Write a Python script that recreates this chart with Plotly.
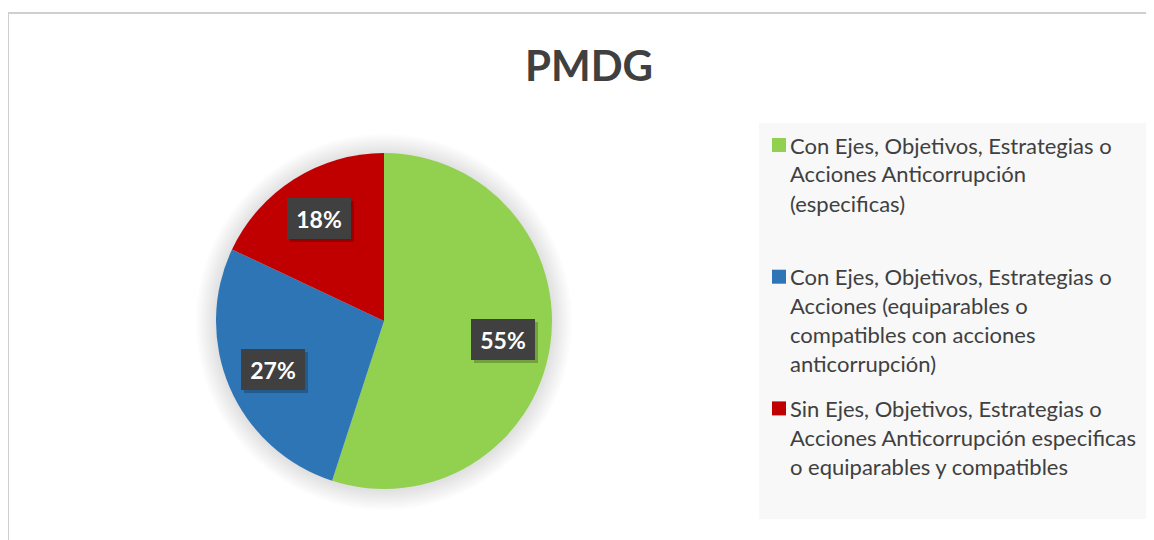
import math
import plotly.graph_objects as go

# ---- data ----
title_text = "PMDG"
labels = [
    "Con Ejes, Objetivos, Estrategias o<br>Acciones Anticorrupción<br>(especificas)",
    "Con Ejes, Objetivos, Estrategias o<br>Acciones (equiparables o<br>compatibles con acciones<br>anticorrupción)",
    "Sin Ejes, Objetivos, Estrategias o<br>Acciones Anticorrupción especificas<br>o equiparables y compatibles",
]
values = [55, 27, 18]
colors = ["#92D050", "#2E75B6", "#C00000"]

# ---- layout geometry (page pixels; page body has an 8px margin) ----
OFF = 8
W, H = 1154 - OFF, 540 - OFF
cx, cy, R = 384, 321, 168

def px(x):
    return (x - OFF) / W

def py(y):
    return 1 - (y - OFF) / H

fig = go.Figure()
fig.add_trace(go.Pie(
    labels=[l.replace("<br>", " ") for l in labels],
    values=values,
    marker=dict(colors=colors, line=dict(width=0)),
    sort=False,
    direction="clockwise",
    rotation=0,
    textinfo="none",
    hoverinfo="label+percent",
    showlegend=False,
    domain=dict(x=[px(cx - R), px(cx + R)], y=[py(cy + R), py(cy - R)]),
))

annotations = []
shapes = []

# chart border
shapes.append(dict(type="rect", xref="paper", yref="paper",
                   x0=px(8), x1=px(1154 + 20), y0=py(540 + 20), y1=py(13),
                   line=dict(color="#CFCFCF", width=2), fillcolor="rgba(0,0,0,0)", layer="below"))
# legend background
shapes.append(dict(type="rect", xref="paper", yref="paper",
                   x0=px(759), x1=px(1154 + 20), y0=py(519), y1=py(123),
                   line=dict(width=0), fillcolor="#F8F8F8", layer="below"))
# soft shadow around the pie
for k in range(1, 11):
    rr = R + 2 * k
    shapes.append(dict(type="circle", xref="paper", yref="paper",
                       x0=px(cx - rr), x1=px(cx + rr), y0=py(cy + 1 + rr), y1=py(cy + 1 - rr),
                       line=dict(width=0), fillcolor="rgba(0,0,0,0.011)", layer="below"))

# data labels (positions computed from values)
total = sum(values)
cum = 0
for v in values:
    mid = (cum + v / 2) / total * 2 * math.pi
    cum += v
    f = 0.72
    lx = cx + f * R * math.sin(mid)
    ly = cy - f * R * math.cos(mid)
    txt = f"{round(v / total * 100)}%"
    annotations.append(dict(x=px(lx + 3), y=py(ly + 3), xref="paper", yref="paper",
                            xanchor="center", yanchor="middle",
                            text=" ", showarrow=False, width=64, height=41,
                            bgcolor="rgba(0,0,0,0.22)", borderpad=0, borderwidth=0))
    annotations.append(dict(x=px(lx), y=py(ly), xref="paper", yref="paper",
                            xanchor="center", yanchor="middle",
                            text=f"<b>{txt}</b>", showarrow=False, width=64, height=41,
                            align="center", valign="middle",
                            bgcolor="#404040", borderpad=0, borderwidth=0,
                            font=dict(family="Lato", size=23, color="white")))

# manual legend
leg_top = 145
leg_step = 131.7
line_h = 29
for i, (lab, col) in enumerate(zip(labels, colors)):
    y0 = leg_top + i * leg_step
    shapes.append(dict(type="rect", xref="paper", yref="paper",
                       x0=px(772), x1=px(786), y0=py(y0 + 7), y1=py(y0 - 7),
                       line=dict(width=0), fillcolor=col))
    for j, line in enumerate(lab.split("<br>")):
        annotations.append(dict(x=px(790), y=py(y0 + j * line_h), xref="paper", yref="paper",
                                text=line, showarrow=False, xanchor="left", yanchor="middle",
                                borderpad=0, borderwidth=0,
                                font=dict(family="Lato", size=22, color="#404040")))

fig.update_layout(
    width=W, height=H,
    margin=dict(l=0, r=0, t=0, b=0),
    paper_bgcolor="white",
    plot_bgcolor="white",
    title=dict(text=f"<b>{title_text}</b>", x=px(589), y=py(66), xanchor="center", yanchor="middle",
               xref="paper", yref="paper",
               font=dict(family="Lato", size=42, color="#404040")),
    annotations=annotations,
    shapes=shapes,
)

fig.write_html("out.html")
